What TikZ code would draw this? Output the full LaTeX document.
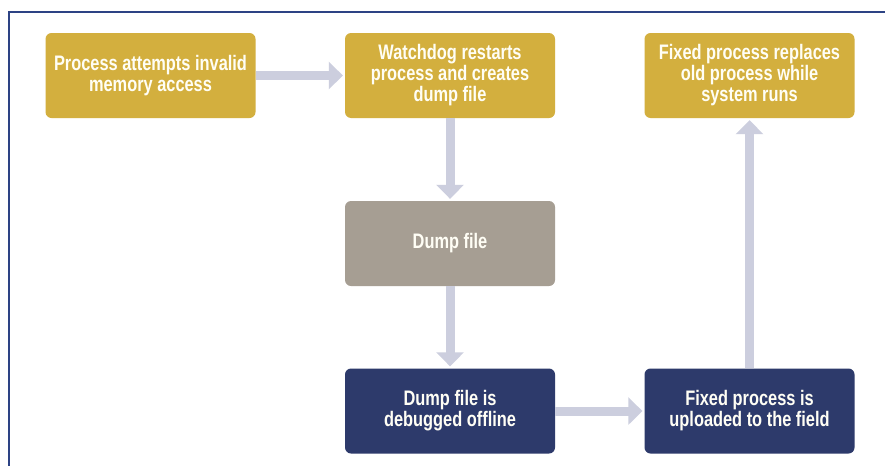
\documentclass[tikz,border=0pt]{standalone}
\usepackage{fontspec}
\newfontfamily\boxfont{Liberation Sans}[FakeStretch=0.78]
\usetikzlibrary{arrows.meta}
\definecolor{goldbox}{RGB}{211,175,62}
\definecolor{graybox}{RGB}{166,158,147}
\definecolor{navybox}{RGB}{45,58,107}
\definecolor{arrowcol}{RGB}{204,206,222}
\definecolor{framecol}{RGB}{45,67,132}
\tikzset{
  stepbox/.style={rounded corners=6pt, minimum width=210pt, minimum height=85pt,
    inner sep=0pt, align=center, text=white!96!yellow,
    font=\boxfont\bfseries\fontsize{21pt}{21pt}\selectfont},
  goldnode/.style={stepbox, fill=goldbox},
  graynode/.style={stepbox, fill=graybox},
  navynode/.style={stepbox, fill=navybox},
  flow/.style={draw=arrowcol, line width=9pt,
    -{Triangle[length=14pt,width=27pt]}, shorten >=2pt}
}
\begin{document}
\begin{tikzpicture}[x=1pt,y=1pt]
\useasboundingbox[fill=white] (0,0) rectangle (885,-466);
\draw[framecol, line width=2pt] (885,-11.5) -- (8.5,-11.5) -- (8.5,-466);
\node[goldnode] (a) at (150.5,-75.5) {Process attempts invalid\\memory access};
\node[goldnode] (b) at (450,-75.5) {Watchdog restarts\\process and creates\\dump file};
\node[goldnode] (f) at (749.5,-75.5) {Fixed process replaces\\old process while\\system runs};
\node[graynode] (c) at (450,-243.5) {Dump file};
\node[navynode] (d) at (450,-411) {Dump file is\\debugged offline};
\node[navynode] (e) at (749.5,-411) {Fixed process is\\uploaded to the field};
\draw[flow] (a) -- (b);
\draw[flow] (b) -- (c);
\draw[flow] (c) -- (d);
\draw[flow] (d) -- (e);
\draw[flow] (e) -- (f);
\end{tikzpicture}
\end{document}
